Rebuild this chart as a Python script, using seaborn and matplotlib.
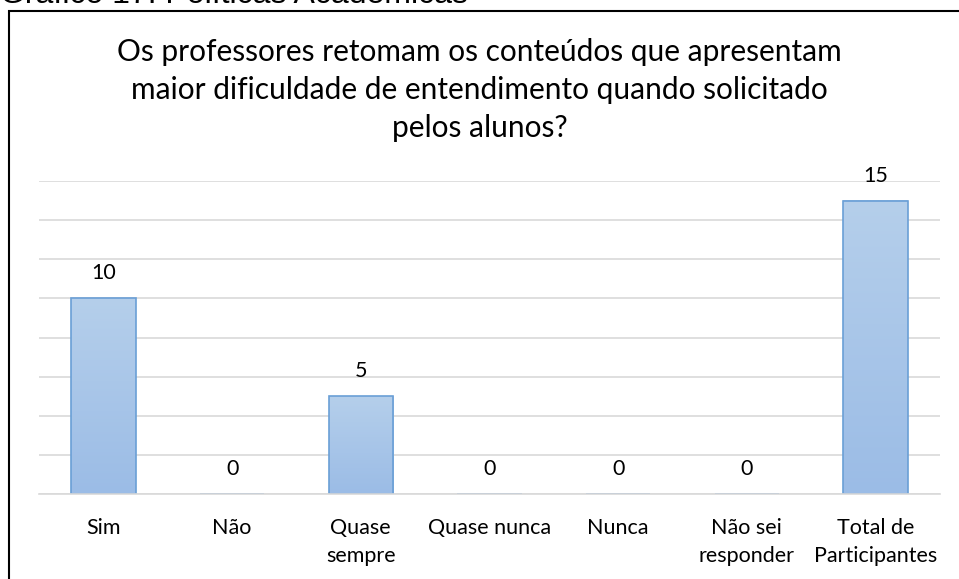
import matplotlib
matplotlib.use("Agg")
import matplotlib.pyplot as plt
import seaborn as sns
import pandas as pd
import numpy as np
from matplotlib.patches import Rectangle
from matplotlib.colors import LinearSegmentedColormap

categories = ["Sim", "Não", "Quase\nsempre", "Quase nunca", "Nunca", "Não sei\nresponder", "Total de\nParticipantes"]
values = [10, 0, 5, 0, 0, 0, 15]
title = "Os professores retomam os conteúdos que apresentam\nmaior dificuldade de entendimento quando solicitado\npelos alunos?"
caption = "Gráfico 17: Políticas Acadêmicas"

sns.set_theme(style="white")
plt.rcParams['font.family'] = ['Lato', 'DejaVu Sans']

df = pd.DataFrame({"cat": categories, "val": values})

fig = plt.figure(figsize=(9.59, 5.79), dpi=100)
ax = fig.add_axes([39/959, 1-494/579, (940-39)/959, (494-181)/579])

sns.barplot(data=df, x="cat", y="val", ax=ax, color="#a9c5e8", width=0.5,
            edgecolor="#6a9fd6", linewidth=1.2, saturation=1)

ax.set_ylim(0, 16)
xl = ax.get_xlim()

# vertical gradient fill inside each bar
cmap = LinearSegmentedColormap.from_list("g", ["#9bbce6", "#b5cfeb"])
grad = np.linspace(0, 1, 256).reshape(-1, 1)
for p in ax.patches:
    h = p.get_height()
    if h <= 0:
        continue
    x0 = p.get_x()
    w = p.get_width()
    ax.imshow(grad, extent=[x0, x0 + w, 0, h], origin="lower", aspect="auto",
              cmap=cmap, zorder=p.get_zorder() - 0.01, interpolation="bilinear")
    p.set_facecolor("none")
ax.set_xlim(xl)
ax.set_ylim(0, 16)

ax.set_yticks(range(0, 17, 2))
ax.yaxis.grid(True, color="#d9d9d9", linewidth=1.2)
ax.set_axisbelow(True)
ax.tick_params(axis="y", left=False, labelleft=False)
ax.tick_params(axis="x", bottom=False, labelsize=15.5, pad=11, colors="#000000")
for s in ["top", "right", "left"]:
    ax.spines[s].set_visible(False)
ax.spines["bottom"].set_color("#d9d9d9")
ax.spines["bottom"].set_linewidth(1.2)
ax.set_xlabel("")
ax.set_ylabel("")
for lbl in ax.get_xticklabels():
    lbl.set_verticalalignment("top")
    lbl.set_linespacing(1.5)

for i, v in enumerate(values):
    ax.annotate(str(v), (i, v), xytext=(0, 18), textcoords="offset points",
                ha="center", va="center", fontsize=15.5, color="#000000")

fig.text(0.5, 1-90/579, title, ha="center", va="center", fontsize=21.5,
         linespacing=1.42, color="#000000")

fig.text(0.0, 1-3/579, caption, ha="left", va="baseline", fontsize=23,
         family=["Liberation Sans", "DejaVu Sans"], color="#000000")

fig.patches.append(Rectangle((9/959, -0.05), 1.0, 1-11/579+0.05, transform=fig.transFigure,
                             fill=False, edgecolor="#000000", linewidth=1.5, figure=fig))

fig.savefig("out.png", dpi=100)
